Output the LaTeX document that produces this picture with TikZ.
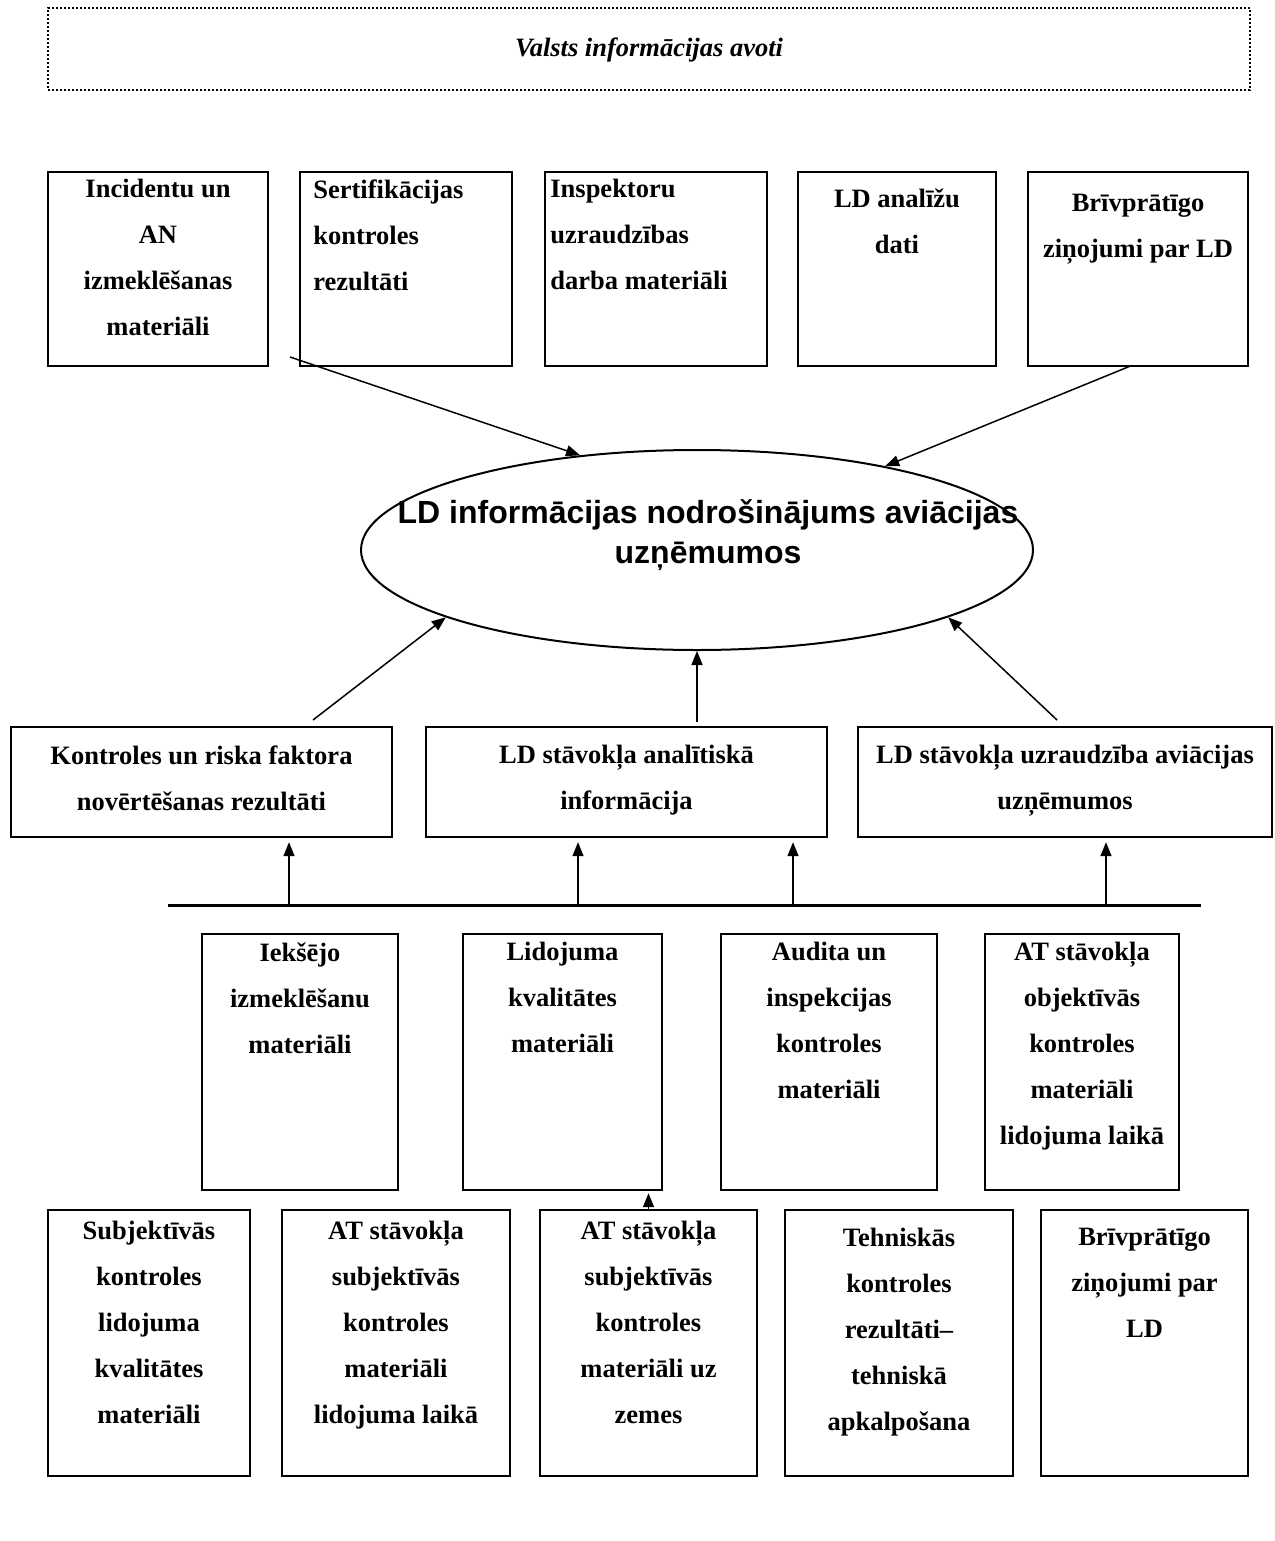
\documentclass[tikz,border=0pt]{standalone}
\usepackage{fontspec}
\setmainfont{Liberation Serif}
\setsansfont{Liberation Sans}
\usetikzlibrary{shapes.geometric,arrows.meta}

\tikzset{
  box/.style={draw, line width=1.2pt, inner sep=0pt},
  txt/.style={inner sep=0pt, anchor=north, align=center,
              font=\fontsize{13.25}{23}\selectfont\bfseries},
  arr/.style={line width=0.75pt, -{Triangle[length=7pt,width=5.5pt]}},
}

\begin{document}
\begin{tikzpicture}[x=0.5pt,y=-0.5pt]
  \useasboundingbox (0,0) rectangle (1274,1541);
  % state sources
  \node[draw, line width=1pt, dash pattern=on 1pt off 1pt,
        minimum width=601pt, minimum height=41pt] (state) at (649,49) {};
  \node[txt, anchor=center, font=\fontsize{13.25}{23}\selectfont\bfseries\itshape]
        (state-t) at (649,50) {Valsts informācijas avoti};
  % top row
  \node[box, minimum width=110pt, minimum height=97pt]   (inc)  at (158,269)    {};
  \node[box, minimum width=106pt, minimum height=97pt]   (cert) at (406,269)    {};
  \node[box, minimum width=111pt, minimum height=97pt]   (insp) at (656,269)    {};
  \node[box, minimum width=99pt,  minimum height=97pt]   (anal) at (897,269)    {};
  \node[box, minimum width=110pt, minimum height=97pt]   (volt) at (1138,269)   {};
  \node[txt] (inc-t) at (158,179) {Incidentu un\\AN\\izmeklēšanas\\materiāli};
  \node[txt, anchor=north west, align=left] (cert-t) at (313,179)
        {Sertifikācijas\\kontroles\\rezultāti};
  \node[txt, anchor=north west, align=left] (insp-t) at (550,179)
        {Inspektoru\\uzraudzības\\darba materiāli};
  \node[txt] (anal-t) at (897,188) {LD analīžu\\dati};
  \node[txt] (volt-t) at (1138,194) {Brīvprātīgo\\ziņojumi par LD};
  % central ellipse
  \node[draw, ellipse, line width=1pt, inner sep=0pt,
        minimum width=336pt, minimum height=100pt] (ldinfo) at (697,550) {};
  \node[txt, anchor=center, font=\fontsize{16}{20}\selectfont\sffamily\bfseries]
        (ldinfo-t) at (708,535) {LD informācijas nodrošinājums aviācijas\\uzņēmumos};
  \coordinate (inc-end) at (290,357);
  \draw[arr] (inc-end) -- (ldinfo.141);
  \draw[arr] (volt.south) ++(-8,-1) -- (ldinfo.24);
  % middle row
  \node[box, minimum width=190.5pt, minimum height=55pt] (risk)   at (201.5,782) {};
  \node[box, minimum width=200.5pt, minimum height=55pt] (analit) at (626.5,782) {};
  \node[box, minimum width=207pt,   minimum height=55pt] (superv) at (1065,782)  {};
  \node[txt] (risk-t)   at (201.5,745) {Kontroles un riska faktora\\novērtēšanas rezultāti};
  \node[txt] (analit-t) at (626.5,745) {LD stāvokļa analītiskā\\informācija};
  \node[txt] (superv-t) at (1065,745)  {LD stāvokļa uzraudzība aviācijas\\uzņēmumos};
  \coordinate (risk-end)   at (313,720);
  \coordinate (analit-end) at (697,722);
  \coordinate (superv-end) at (1057,720);
  \draw[arr] (risk-end)   -- (ldinfo.195);
  \draw[arr] (analit-end) -- (ldinfo.south);
  \draw[arr] (superv-end) -- (ldinfo.345);
  % bus line
  \coordinate (bus-l) at (168,905);
  \coordinate (bus-r) at (1201,905);
  \draw[line width=1.5pt] (bus-l) -- (bus-r);
  \coordinate (bus1) at (289,905);
  \coordinate (bus2) at (578,905);
  \coordinate (bus3) at (793,905);
  \coordinate (bus4) at (1106,905);
  \draw[arr, shorten >=2pt] (bus1) -- (bus1 |- risk.south);
  \draw[arr, shorten >=2pt] (bus2) -- (bus2 |- analit.south);
  \draw[arr, shorten >=2pt] (bus3) -- (bus3 |- analit.south);
  \draw[arr, shorten >=2pt] (bus4) -- (bus4 |- superv.south);
  % third row
  \node[box, minimum width=98pt,  minimum height=128pt] (internal) at (300,1062)   {};
  \node[box, minimum width=99.5pt,minimum height=128pt] (flight)   at (562.5,1062) {};
  \node[box, minimum width=108pt, minimum height=128pt] (audit)    at (829,1062)   {};
  \node[box, minimum width=97pt,  minimum height=128pt] (objctl)   at (1082,1062)  {};
  \node[txt] (internal-t) at (300,942)   {Iekšējo\\izmeklēšanu\\materiāli};
  \node[txt] (flight-t)   at (562.5,942) {Lidojuma\\kvalitātes\\materiāli};
  \node[txt] (audit-t)    at (829,942)   {Audita un\\inspekcijas\\kontroles\\materiāli};
  \node[txt] (objctl-t)   at (1082,942)
        {AT stāvokļa\\objektīvās\\kontroles\\materiāli\\lidojuma laikā};
  % bottom row
  \node[box, minimum width=101pt,  minimum height=133pt] (subj) at (149,1343)    {};
  \node[box, minimum width=114pt,  minimum height=133pt] (atfl) at (396,1343)    {};
  \node[box, minimum width=108.5pt,minimum height=133pt] (atgr) at (648.5,1343)  {};
  \node[box, minimum width=114pt,  minimum height=133pt] (tech) at (899,1343)    {};
  \node[box, minimum width=103.5pt,minimum height=133pt] (volr) at (1144.5,1343) {};
  \node[txt] (subj-t) at (149,1221)
        {Subjektīvās\\kontroles\\lidojuma\\kvalitātes\\materiāli};
  \node[txt] (atfl-t) at (396,1221)
        {AT stāvokļa\\subjektīvās\\kontroles\\materiāli\\lidojuma laikā};
  \node[txt] (atgr-t) at (648.5,1221)
        {AT stāvokļa\\subjektīvās\\kontroles\\materiāli uz\\zemes};
  \node[txt] (tech-t) at (899,1228)
        {Tehniskās\\kontroles\\rezultāti–\\tehniskā\\apkalpošana};
  \node[txt] (volr-t) at (1144.5,1228) {Brīvprātīgo\\ziņojumi par\\LD};
  \draw[arr, shorten >=1pt] (atgr.north) -- (atgr.north |- flight.south);
\end{tikzpicture}
\end{document}
